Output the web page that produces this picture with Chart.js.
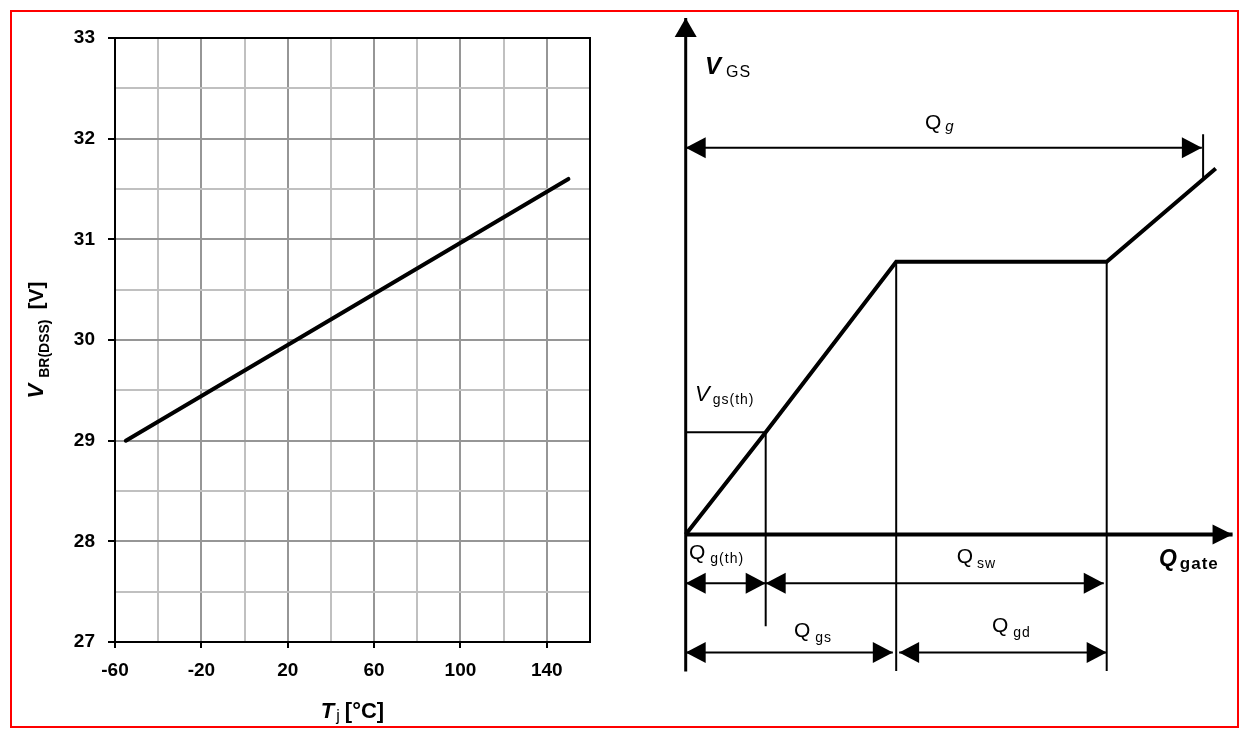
<!DOCTYPE html>
<html>
<head>
<meta charset="utf-8">
<script src="https://cdn.jsdelivr.net/npm/chart.js@4.4.0/dist/chart.umd.min.js"></script>
<style>
html, body { margin:0; padding:0; background:#fff; width:1248px; height:738px; overflow:hidden; }
#frame { position:absolute; left:10px; top:10px; width:1225px; height:714px; border:2px solid #ff0000; }
#left { position:absolute; left:0; top:0; }
#right { position:absolute; left:640px; top:0; }
</style>
</head>
<body>
<div id="frame"></div>
<canvas id="left" width="640" height="738"></canvas>
<canvas id="right" width="608" height="738"></canvas>
<script>
// left: breakdown voltage vs junction temperature
const tj = [-55, 150];
const vbrDss = [29.0, 31.6];
const tjLabels = [-60, -20, 20, 60, 100, 140];
const vLabels = [27, 28, 29, 30, 31, 32, 33];

// right: gate charge sketch (Q in units where end of Qgd = 100, V in units where plateau = 10)
const qCurve = [0, 19, 50, 100, 125.9];
const vCurve = [0, 3.75, 10, 10, 13.42];
const axisQ = [0, 129.9];
const axisV = [-5.02, 18.93];
const guideQ = [[0, 19], [19, 19], [50, 50], [100, 100], [122.9, 122.9]];
const guideV = [[3.75, 3.75], [3.75, -3.36], [10, -5.0], [10, -5.0], [14.67, 13.07]];
const dimFrom = [0, 0, 19, 0, 50.7];
const dimTo = [122.6, 19, 99.3, 49.2, 100];
const dimLevel = [14.18, -1.79, -1.79, -4.33, -4.33];

const FAM = '"Liberation Sans", Arial, sans-serif';
const gridMajor = '#969696';
const gridMinor = '#c0c0c0';
const tickFont = { family: FAM, size: 19, weight: 'bold' };

function drawRich(ctx, x, y, parts, align) {
  let w = 0;
  parts.forEach(p => {
    ctx.font = p.font; ctx.letterSpacing = p.ls || '0px';
    w += (p.gap || 0) + ctx.measureText(p.text).width;
  });
  let cx = align === 'center' ? x - w / 2 : x;
  parts.forEach(p => {
    ctx.font = p.font; ctx.letterSpacing = p.ls || '0px';
    cx += p.gap || 0;
    ctx.fillText(p.text, cx, y + (p.dy || 0));
    cx += ctx.measureText(p.text).width;
  });
  ctx.letterSpacing = '0px';
}

const frameLines = {
  id: 'frameLines',
  afterDraw(chart) {
    const { ctx, chartArea: a } = chart;
    ctx.save();
    ctx.strokeStyle = '#000';
    ctx.lineWidth = 2;
    ctx.strokeRect(a.left, a.top, a.right - a.left, a.bottom - a.top);
    ctx.restore();
  }
};

const axisTitles = {
  id: 'axisTitles',
  afterDraw(chart) {
    const { ctx, chartArea: a } = chart;
    ctx.save();
    ctx.fillStyle = '#000';
    ctx.textBaseline = 'alphabetic';
    drawRich(ctx, (a.left + a.right) / 2, a.bottom + 76, [
      { text: 'T', font: 'italic bold 22px ' + FAM },
      { text: 'j', font: '16px ' + FAM, gap: 2, dy: 3 },
      { text: '[°C]', font: 'bold 22px ' + FAM, gap: 5 }
    ], 'center');
    ctx.translate(a.left - 72, (a.top + a.bottom) / 2);
    ctx.rotate(-Math.PI / 2);
    drawRich(ctx, 0, 0, [
      { text: 'V', font: 'italic bold 22px ' + FAM },
      { text: 'BR(DSS)', font: 'bold 14px ' + FAM, gap: 6, dy: 6 },
      { text: '[V]', font: 'bold 21px ' + FAM, gap: 10 }
    ], 'center');
    ctx.restore();
  }
};

new Chart(document.getElementById('left'), {
  type: 'line',
  data: {
    datasets: [{
      data: tj.map((t, i) => ({ x: t, y: vbrDss[i] })),
      borderColor: '#000',
      borderWidth: 4,
      borderCapStyle: 'round',
      pointRadius: 0,
      tension: 0
    }]
  },
  options: {
    responsive: false,
    animation: false,
    events: [],
    layout: { padding: { top: 38, right: 50, left: 0, bottom: 0 } },
    plugins: { legend: { display: false }, tooltip: { enabled: false } },
    scales: {
      x: {
        type: 'linear', min: -60, max: 160,
        afterFit: s => { s.height = 96; },
        ticks: {
          stepSize: 20, autoSkip: false, maxRotation: 0, padding: 11, color: '#000', font: tickFont,
          callback: v => tjLabels.includes(v) ? String(v) : ''
        },
        grid: {
          lineWidth: 2, tickLength: 6,
          color: c => tjLabels.includes(c.tick.value) ? gridMajor : gridMinor,
          tickColor: c => tjLabels.includes(c.tick.value) ? '#000' : 'rgba(0,0,0,0)'
        },
        border: { color: '#000', width: 2 }
      },
      y: {
        type: 'linear', min: 27, max: 33,
        afterFit: s => { s.width = 115; },
        ticks: {
          stepSize: 0.5, autoSkip: false, padding: 13, color: '#000', font: tickFont,
          callback: v => vLabels.includes(v) ? String(v) : ''
        },
        grid: {
          lineWidth: 2, tickLength: 7,
          color: c => vLabels.includes(c.tick.value) ? gridMajor : gridMinor,
          tickColor: c => vLabels.includes(c.tick.value) ? '#000' : 'rgba(0,0,0,0)'
        },
        border: { color: '#000', width: 2 }
      }
    }
  },
  plugins: [frameLines, axisTitles]
});

// ---- gate charge sketch ----
function seg(xs, ys, w, head) {
  return {
    data: xs.map((x, i) => ({ x: x, y: ys[i] })),
    borderColor: '#000', borderWidth: w, borderCapStyle: 'butt', borderJoinStyle: 'miter',
    pointRadius: 0, showLine: true, fill: false, tension: 0, arrowHead: head
  };
}

const sketchSets = [seg(qCurve, vCurve, 4)];
sketchSets.push(seg([0, 0], axisV, 3, { end: true, len: 19, half: 11 }));
sketchSets.push(seg(axisQ, [0, 0], 4, { end: true, len: 20, half: 10 }));
guideQ.forEach((q, i) => sketchSets.push(seg(q, guideV[i], 2)));
dimFrom.forEach((q, i) => sketchSets.push(seg([q, dimTo[i]], [dimLevel[i], dimLevel[i]], 2,
  { start: true, end: true, len: 20, half: 10.5 })));

const arrowHeads = {
  id: 'arrowHeads',
  afterDatasetsDraw(chart) {
    const ctx = chart.ctx;
    ctx.save();
    ctx.fillStyle = '#000';
    chart.data.datasets.forEach((ds, i) => {
      const h = ds.arrowHead;
      if (!h) return;
      const pts = chart.getDatasetMeta(i).data;
      const tip = (p, q) => {
        const dx = p.x - q.x, dy = p.y - q.y, l = Math.hypot(dx, dy);
        const ux = dx / l, uy = dy / l;
        const bx = p.x - ux * h.len, by = p.y - uy * h.len;
        ctx.beginPath();
        ctx.moveTo(p.x, p.y);
        ctx.lineTo(bx - uy * h.half, by + ux * h.half);
        ctx.lineTo(bx + uy * h.half, by - ux * h.half);
        ctx.closePath();
        ctx.fill();
      };
      if (h.end) tip(pts[pts.length - 1], pts[pts.length - 2]);
      if (h.start) tip(pts[0], pts[1]);
    });
    ctx.restore();
  }
};

const sub = (t, size, gap, dy, bold) => ({ text: t, font: (bold ? 'bold ' : '') + size + 'px ' + FAM, gap: gap, dy: dy, ls: '1px' });
const sketchLabels = [
  { x: 4.58, y: 16.88, parts: [{ text: 'V', font: 'italic bold 24px ' + FAM }, sub('GS', 16, 5, 3)] },
  { x: 56.84, y: 14.88, parts: [{ text: 'Q', font: '21px ' + FAM }, { text: 'g', font: 'italic 15px ' + FAM, gap: 4, dy: 2.5 }] },
  { x: 2.21, y: 4.90, parts: [{ text: 'V', font: 'italic 22px ' + FAM }, sub('gs(th)', 14, 3, 3.5)] },
  { x: 0.78, y: -0.88, parts: [{ text: 'Q', font: '21px ' + FAM }, sub('g(th)', 14, 5, 4.5)] },
  { x: 64.37, y: -1.06, parts: [{ text: 'Q', font: '21px ' + FAM }, sub('sw', 14, 4, 4.5)] },
  { x: 25.72, y: -3.76, parts: [{ text: 'Q', font: '21px ' + FAM }, sub('gs', 14, 5, 4.5)] },
  { x: 72.75, y: -3.59, parts: [{ text: 'Q', font: '21px ' + FAM }, sub('gd', 14, 5, 4.5)] },
  { x: 112.4, y: -1.15, parts: [{ text: 'Q', font: 'italic bold 23px ' + FAM }, sub('gate', 17, 3, 3.5, true)] }
];

const labelDraw = {
  id: 'labelDraw',
  afterDraw(chart) {
    const { ctx, scales } = chart;
    ctx.save();
    ctx.fillStyle = '#000';
    ctx.textBaseline = 'alphabetic';
    sketchLabels.forEach(l => drawRich(ctx, scales.x.getPixelForValue(l.x), scales.y.getPixelForValue(l.y), l.parts, 'left'));
    ctx.restore();
  }
};

new Chart(document.getElementById('right'), {
  type: 'scatter',
  data: { datasets: sketchSets },
  options: {
    responsive: false,
    animation: false,
    events: [],
    layout: { padding: { left: 33.07, right: 15, top: 16.18, bottom: 53.46 } },
    plugins: { legend: { display: false }, tooltip: { enabled: false } },
    scales: {
      x: { type: 'linear', min: -3, max: 130, display: false },
      y: { type: 'linear', min: -5.5, max: 19, display: false }
    }
  },
  plugins: [arrowHeads, labelDraw]
});
</script>
</body>
</html>
